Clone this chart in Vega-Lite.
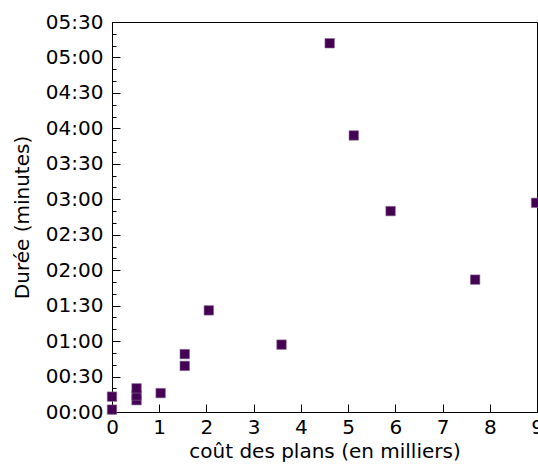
{
  "$schema": "https://vega.github.io/schema/vega-lite/v6.json",
  "width": 425,
  "height": 390,
  "autosize": "none",
  "padding": {"left": 112, "top": 22, "right": 1, "bottom": 53},
  "background": "white",
  "config": {
    "view": {"stroke": "black", "strokeWidth": 1},
    "font": "DejaVu Sans",
    "axis": {
      "labelFont": "DejaVu Sans",
      "titleFont": "DejaVu Sans",
      "labelFontSize": 20,
      "titleFontSize": 20,
      "titleFontWeight": "normal",
      "labelColor": "black",
      "titleColor": "black",
      "domainColor": "black",
      "tickColor": "black",
      "grid": false
    }
  },
  "data": {
    "values": [
      {"cout": 0, "duree": 2},
      {"cout": 0, "duree": 13},
      {"cout": 0.52, "duree": 10},
      {"cout": 0.52, "duree": 14},
      {"cout": 0.52, "duree": 20},
      {"cout": 1.03, "duree": 16},
      {"cout": 1.54, "duree": 39},
      {"cout": 1.54, "duree": 49},
      {"cout": 2.05, "duree": 86},
      {"cout": 3.59, "duree": 57},
      {"cout": 4.61, "duree": 312},
      {"cout": 5.12, "duree": 234},
      {"cout": 5.9, "duree": 170},
      {"cout": 7.69, "duree": 112},
      {"cout": 8.98, "duree": 177}
    ]
  },
  "mark": {"type": "point", "shape": "square", "filled": true, "size": 90, "color": "#440154", "opacity": 1, "stroke": "#8c6d94", "strokeWidth": 0.6, "clip": false},
  "encoding": {
    "x": {
      "field": "cout",
      "type": "quantitative",
      "scale": {"domain": [0, 9], "nice": false, "zero": false},
      "axis": {
        "title": "coût des plans (en milliers)",
        "values": [0, 1, 2, 3, 4, 5, 6, 7, 8, 9],
        "tickSize": -8,
        "labelPadding": 13,
        "titlePadding": 4,
        "labelFlush": false,
        "labelOverlap": false
      }
    },
    "y": {
      "field": "duree",
      "type": "quantitative",
      "scale": {"domain": [0, 330], "nice": false, "zero": false},
      "axis": {
        "title": "Durée (minutes)",
        "values": [0, 10, 20, 30, 40, 50, 60, 70, 80, 90, 100, 110, 120, 130, 140, 150, 160, 170, 180, 190, 200, 210, 220, 230, 240, 250, 260, 270, 280, 290, 300, 310, 320, 330],
        "labelExpr": "datum.value % 30 === 0 ? (floor(datum.value/60) < 10 ? '0' : '') + floor(datum.value/60) + ':' + (datum.value % 60 < 10 ? '0' : '') + (datum.value % 60) : ''",
        "tickSize": {"condition": {"test": "datum.value % 30 === 0", "value": -8}, "value": -4},
        "labelPadding": 17,
        "titlePadding": 13,
        "labelFlush": false,
        "labelOverlap": false
      }
    }
  }
}
